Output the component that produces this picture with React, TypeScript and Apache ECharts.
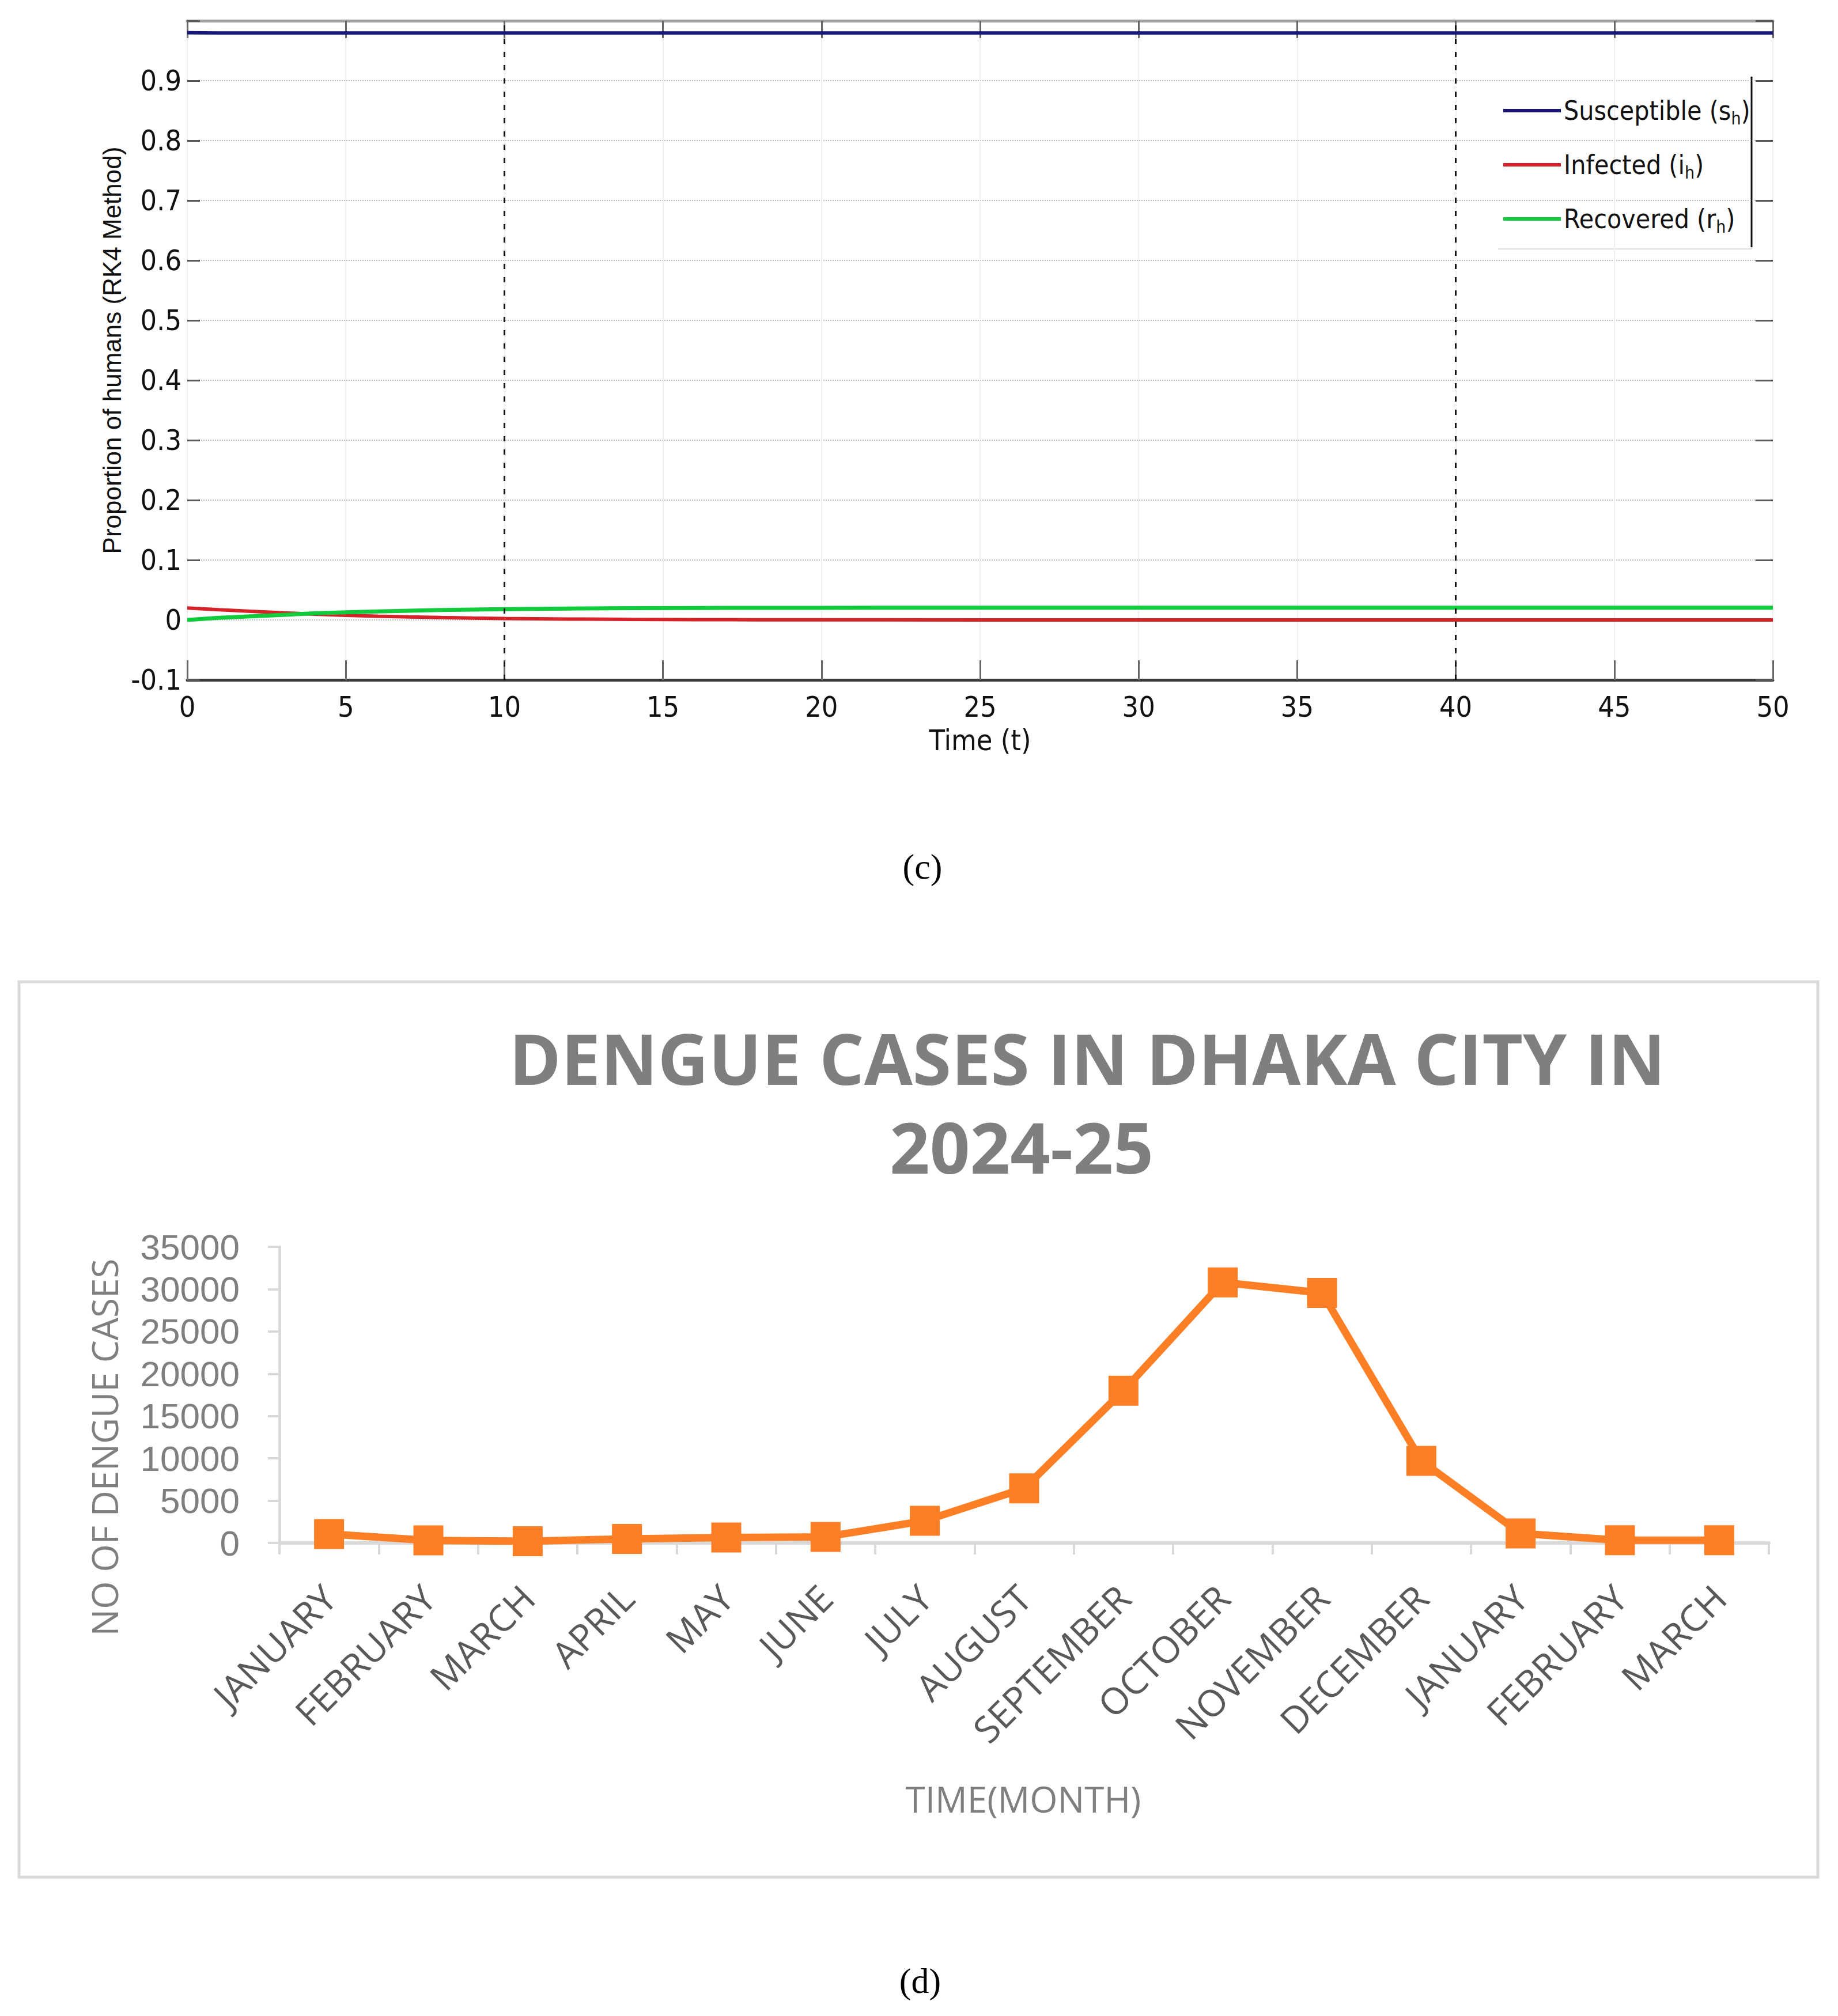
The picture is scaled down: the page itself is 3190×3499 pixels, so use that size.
import React, { useEffect, useRef } from 'react';
import * as echarts from 'echarts';

// Panel (c): RK4 solution of the human compartments
const timeT = [0, 1, 2, 3, 4, 5, 6, 7, 8, 9, 10, 12, 14, 16, 18, 20, 25, 30, 35, 40, 45, 50];
const susceptible = [0.98, 0.9795, 0.9795, 0.9795, 0.9795, 0.9795, 0.9795, 0.9795, 0.9795, 0.9795, 0.9795, 0.9795, 0.9795, 0.9795, 0.9795, 0.9795, 0.9795, 0.9795, 0.9795, 0.9795, 0.9795, 0.9795];
const infected = [0.02, 0.017, 0.0145, 0.012, 0.0095, 0.0077, 0.0062, 0.005, 0.004, 0.0032, 0.0025, 0.0015, 0.0009, 0.0005, 0.0003, 0.0002, 0.0001, 0.0001, 0, 0, 0, 0];
const recovered = [0, 0.0035, 0.006, 0.0085, 0.011, 0.0128, 0.0143, 0.0155, 0.0165, 0.0173, 0.018, 0.019, 0.0196, 0.02, 0.0202, 0.0203, 0.0204, 0.0204, 0.0205, 0.0205, 0.0205, 0.0205];
const legendLabels: Record<string, string> = {
  Susceptible: 'Susceptible (s{sub|h})',
  Infected: 'Infected (i{sub|h})',
  Recovered: 'Recovered (r{sub|h})',
};

// Panel (d): monthly dengue cases, Dhaka
const months = ['JANUARY', 'FEBRUARY', 'MARCH', 'APRIL', 'MAY', 'JUNE', 'JULY', 'AUGUST', 'SEPTEMBER', 'OCTOBER', 'NOVEMBER', 'DECEMBER', 'JANUARY', 'FEBRUARY', 'MARCH'];
const dengueCases = [1050, 300, 210, 480, 640, 720, 2630, 6450, 18000, 30800, 29550, 9700, 1120, 320, 320];

const NARROW = "'Liberation Sans Narrow', 'DejaVu Sans Condensed', 'Liberation Sans', Arial, sans-serif";
const ARIAL = "'Liberation Sans', Arial, sans-serif";
const SANS = "'Open Sans', 'Noto Sans', sans-serif";
const SERIF = "'Liberation Serif', 'DejaVu Serif', serif";
const ORANGE = '#fc7f25';

export default function App() {
  const ref = useRef<HTMLDivElement>(null);

  useEffect(() => {
    const chart = echarts.init(ref.current!, null, { renderer: 'svg' });
    const pairs = (ys: number[]) => timeT.map((t, i) => [t, ys[i]]);
    const tenth = (v: number) => (v > 0.95 ? '' : String(Math.round(v * 10) / 10));

    const sirAxisY = {
      type: 'value',
      gridIndex: 0,
      min: -0.1,
      max: 1.0,
      interval: 0.1,
    };

    chart.setOption({
      animation: false,
      backgroundColor: '#ffffff',
      grid: [
        { left: 325, top: 36, width: 2752, height: 1144, outerBoundsMode: 'none' },
        { left: 485, top: 2164, width: 2585, height: 514, outerBoundsMode: 'none' },
      ],
      legend: {
        orient: 'vertical',
        left: 2604,
        top: 159,
        itemWidth: 100,
        itemHeight: 6,
        itemGap: 38,
        icon: 'rect',
        data: ['Susceptible', 'Infected', 'Recovered'],
        formatter: (name: string) => legendLabels[name] ?? name,
        textStyle: {
          fontFamily: NARROW,
          fontSize: 46,
          color: '#111',
          lineHeight: 56,
          rich: {
            sub: { fontFamily: NARROW, fontSize: 30, color: '#111', verticalAlign: 'bottom', lineHeight: 56 },
          },
        },
      },
      xAxis: [
        {
          type: 'value',
          gridIndex: 0,
          min: 0,
          max: 50,
          interval: 5,
          name: 'Time (t)',
          nameLocation: 'middle',
          nameGap: 80,
          nameTextStyle: { fontFamily: NARROW, fontSize: 50, color: '#111' },
          axisLine: { show: true, onZero: false, lineStyle: { color: '#3a3a3a', width: 5 } },
          axisTick: { show: true, inside: true, length: 34, lineStyle: { color: '#666', width: 3 } },
          axisLabel: { fontFamily: NARROW, fontSize: 50, color: '#111', margin: 22 },
          splitLine: { show: true, lineStyle: { color: '#efefef', width: 2 } },
        },
        {
          type: 'value',
          gridIndex: 0,
          position: 'top',
          min: 0,
          max: 50,
          interval: 5,
          axisLine: { show: true, onZero: false, lineStyle: { color: '#a0a0a0', width: 5 } },
          axisTick: { show: true, inside: true, length: 30, lineStyle: { color: '#666', width: 3 } },
          axisLabel: { show: false },
          splitLine: { show: false },
        },
        {
          type: 'category',
          gridIndex: 1,
          data: months,
          boundaryGap: true,
          axisLine: { show: true, lineStyle: { color: '#d9d9d9', width: 6 } },
          axisTick: { show: true, length: 20, lineStyle: { color: '#d9d9d9', width: 4 } },
          axisLabel: {
            interval: 0,
            rotate: 45,
            margin: 84,
            fontFamily: SANS,
            fontSize: 64,
            color: '#595959',
          },
          splitLine: { show: false },
        },
      ],
      yAxis: [
        {
          ...sirAxisY,
          name: 'Proportion of humans (RK4 Method)',
          nameLocation: 'middle',
          nameGap: 96,
          nameTextStyle: { fontFamily: ARIAL, fontSize: 44, color: '#111' },
          axisLine: { show: false, onZero: false },
          axisTick: { show: true, inside: true, length: 22, lineStyle: { color: '#555', width: 3 } },
          axisLabel: { fontFamily: NARROW, fontSize: 50, color: '#111', margin: 10, formatter: tenth },
          splitLine: { show: true, lineStyle: { color: '#bdbdbd', width: 2, type: 'dotted' } },
        },
        {
          ...sirAxisY,
          position: 'right',
          axisLine: { show: false, onZero: false },
          axisTick: { show: true, inside: true, length: 30, lineStyle: { color: '#555', width: 3 } },
          axisLabel: { show: false },
          splitLine: { show: false },
        },
        {
          type: 'value',
          gridIndex: 1,
          min: 0,
          max: 35000,
          interval: 5000,
          axisLine: { show: true, lineStyle: { color: '#d9d9d9', width: 5 } },
          axisTick: { show: true, length: 20, lineStyle: { color: '#d9d9d9', width: 4 } },
          axisLabel: {
            fontFamily: ARIAL,
            fontSize: 62,
            lineHeight: 62,
            color: '#7f7f7f',
            margin: 69,
            formatter: (v: number) => String(v),
          },
          splitLine: { show: false },
        },
      ],
      series: [
        {
          name: 'Susceptible',
          type: 'line',
          xAxisIndex: 0,
          yAxisIndex: 0,
          data: pairs(susceptible),
          symbol: 'none',
          color: '#17177a',
          lineStyle: { color: '#17177a', width: 6 },
          markLine: {
            silent: true,
            symbol: 'none',
            label: { show: false },
            lineStyle: { color: '#111', type: [9, 14], width: 3 },
            data: [{ xAxis: 10 }, { xAxis: 40 }],
          },
        },
        {
          name: 'Infected',
          type: 'line',
          xAxisIndex: 0,
          yAxisIndex: 0,
          data: pairs(infected),
          symbol: 'none',
          color: '#d6232a',
          lineStyle: { color: '#d6232a', width: 6 },
        },
        {
          name: 'Recovered',
          type: 'line',
          xAxisIndex: 0,
          yAxisIndex: 0,
          data: pairs(recovered),
          symbol: 'none',
          color: '#10cc3c',
          lineStyle: { color: '#10cc3c', width: 7 },
        },
        {
          name: 'Dengue cases',
          type: 'line',
          xAxisIndex: 2,
          yAxisIndex: 2,
          data: dengueCases,
          symbol: 'rect',
          symbolSize: 52,
          color: ORANGE,
          itemStyle: { color: ORANGE },
          lineStyle: { color: ORANGE, width: 13 },
        },
      ],
      graphic: {
        elements: [
          // right edge of the legend box in panel (c)
          { type: 'line', shape: { x1: 3040, y1: 133, x2: 3040, y2: 429 }, style: { stroke: '#111', lineWidth: 3 } },
          { type: 'line', shape: { x1: 2600, y1: 432, x2: 3040, y2: 432 }, style: { stroke: '#e4e4e4', lineWidth: 3 } },
          {
            type: 'text', x: 1601, y: 1504,
            style: { text: '(c)', fontFamily: SERIF, fontSize: 62, fill: '#000', align: 'center', verticalAlign: 'middle' },
          },
          // frame of panel (d)
          {
            type: 'rect', shape: { x: 33, y: 1704, width: 3122, height: 1554 },
            style: { fill: 'none', stroke: '#d9d9d9', lineWidth: 5 },
          },
          {
            type: 'text', x: 1887, y: 1836,
            style: { text: 'DENGUE CASES IN DHAKA CITY IN', fontFamily: SANS, fontWeight: 'bold', fontSize: 122, fill: '#7f7f7f', align: 'center', verticalAlign: 'middle' },
          },
          {
            type: 'text', x: 1773, y: 1990,
            style: { text: '2024-25', fontFamily: SANS, fontWeight: 'bold', fontSize: 122, fill: '#7f7f7f', align: 'center', verticalAlign: 'middle' },
          },
          {
            type: 'text', x: 181, y: 2512, rotation: Math.PI / 2,
            style: { text: 'NO OF DENGUE CASES', fontFamily: SANS, fontSize: 62, fill: '#7f7f7f', align: 'center', verticalAlign: 'middle' },
          },
          {
            type: 'text', x: 1776, y: 3122,
            style: { text: 'TIME(MONTH)', fontFamily: SANS, fontSize: 62, fill: '#7f7f7f', align: 'center', verticalAlign: 'middle' },
          },
          {
            type: 'text', x: 1597, y: 3438,
            style: { text: '(d)', fontFamily: SERIF, fontSize: 62, fill: '#000', align: 'center', verticalAlign: 'middle' },
          },
        ],
      },
    });

    return () => chart.dispose();
  }, []);

  return (
    <div
      ref={ref}
      style={{ position: 'absolute', left: 0, top: 0, width: 3190, height: 3499 }}
    />
  );
}
